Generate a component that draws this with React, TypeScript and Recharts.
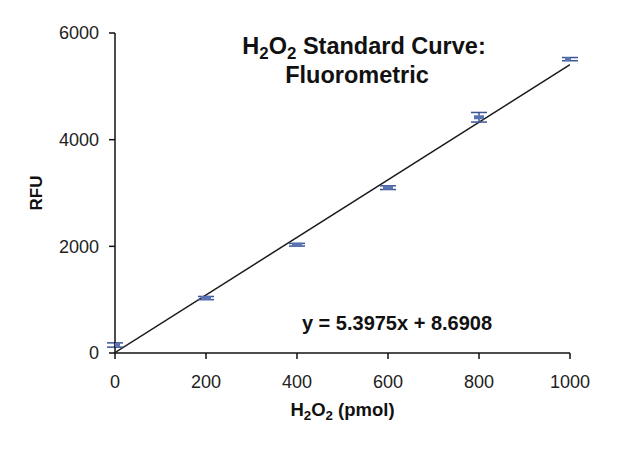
import {
  ComposedChart,
  ErrorBar,
  Line,
  Scatter,
  XAxis,
  YAxis,
  Customized
} from "recharts";

// H2O2 standard curve, fluorometric
const pmol = [0, 200, 400, 600, 800, 1000];
const rfu = [150, 1030, 2030, 3100, 4420, 5510];
const rfuErr = [40, 30, 25, 35, 90, 30];

const slope = 5.3975;
const intercept = 8.6908;

const xTicks = [0, 200, 400, 600, 800, 1000];
const yTicks = [0, 2000, 4000, 6000];

const points = pmol.map((x, i) => ({ x, y: rfu[i], err: rfuErr[i] }));
const trend = [0, 1000].map((x) => ({ x, y: slope * x + intercept }));

const FONT = "'Liberation Sans', Arial, Helvetica, sans-serif";
const MARKER = "#5a74b2";
const SUB = { fontSize: "0.72em" };

function DashMarker(props: any) {
  const { cx, cy } = props;
  if (cx == null || cy == null) return null;
  return <rect x={cx - 5} y={cy - 2} width={10} height={4} fill={MARKER} />;
}

function Annotations() {
  return (
    <g fontFamily={FONT} fontWeight="bold" fill="#111">
      <text x={364} y={54} textAnchor="middle" fontSize={23.5}>
        H<tspan {...SUB} dy={5}>2</tspan>
        <tspan dy={-5}>O</tspan>
        <tspan {...SUB} dy={5}>2</tspan>
        <tspan dy={-5}> Standard Curve:</tspan>
      </text>
      <text x={357} y={83} textAnchor="middle" fontSize={23.5}>
        Fluorometric
      </text>
      <text x={397} y={330} textAnchor="middle" fontSize={20}>
        y = 5.3975x + 8.6908
      </text>
    </g>
  );
}

function XTitle(props: any) {
  const { viewBox } = props;
  const cx = viewBox.x + viewBox.width / 2;
  return (
    <text x={cx} y={416} textAnchor="middle" fontFamily={FONT} fontWeight="bold" fontSize={18.5} fill="#111">
      H<tspan {...SUB} dy={4}>2</tspan>
      <tspan dy={-4}>O</tspan>
      <tspan {...SUB} dy={4}>2</tspan>
      <tspan dy={-4}> (pmol)</tspan>
    </text>
  );
}

function YTitle(props: any) {
  const { viewBox } = props;
  const cy = viewBox.y + viewBox.height / 2;
  return (
    <text
      x={42}
      y={cy}
      transform={`rotate(-90, 42, ${cy})`}
      textAnchor="middle"
      fontFamily={FONT}
      fontWeight="bold"
      fontSize={17}
      fill="#111"
    >
      RFU
    </text>
  );
}

export default function App() {
  const tickStyle = { fontFamily: FONT, fontSize: 18, fill: "#222" };
  return (
    <div style={{ position: "absolute", left: 0, top: 0, width: 640, height: 453, background: "#fff" }}>
      <ComposedChart
        width={640}
        height={453}
        margin={{ top: 33, right: 70, bottom: 40, left: 55 }}
      >
        <XAxis
          dataKey="x"
          type="number"
          domain={[0, 1000]}
          ticks={xTicks}
          allowDataOverflow
          stroke="#111"
          strokeWidth={1.5}
          tickSize={6}
          tickMargin={16}
          height={60}
          tick={tickStyle}
          label={{ content: XTitle }}
        />
        <YAxis
          type="number"
          domain={[0, 6000]}
          ticks={yTicks}
          allowDataOverflow
          stroke="#111"
          strokeWidth={1.5}
          tickSize={6}
          tickMargin={10}
          width={60}
          tick={tickStyle}
          label={{ content: YTitle }}
        />
        <Line
          data={trend}
          dataKey="y"
          stroke="#1a1a1a"
          strokeWidth={1.5}
          dot={false}
          activeDot={false}
          isAnimationActive={false}
        />
        <Scatter data={points} dataKey="y" shape={DashMarker} isAnimationActive={false}>
          <ErrorBar dataKey="err" direction="y" width={8} stroke="#3b5694" strokeWidth={1.5} />
        </Scatter>
        <Customized component={Annotations} />
      </ComposedChart>
    </div>
  );
}
